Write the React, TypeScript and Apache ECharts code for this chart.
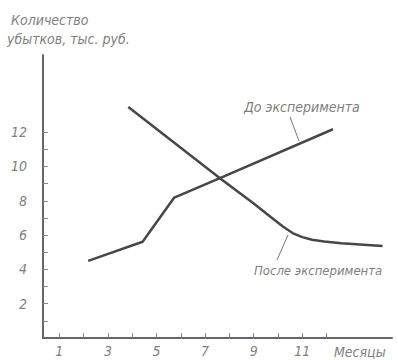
import React, { useEffect, useRef } from "react";
import * as echarts from "echarts";

// Months (x) and losses, thousand rubles (y)
const beforeMonths = [2.19, 4.43, 5.73, 7.61, 12.26];
const beforeValues = [4.5, 5.61, 8.19, 9.32, 12.17];
const afterMonths = [3.84, 7.61, 9.0, 9.7, 10.2, 10.6, 11.0, 11.4, 11.9, 12.6, 14.3];
const afterValues = [13.47, 9.32, 7.84, 7.05, 6.5, 6.12, 5.88, 5.73, 5.62, 5.52, 5.36];

const xTicks = [1, 2, 3, 4, 5, 6, 7, 8, 9, 10, 11, 12];
const xTickLabels = [1, 3, 5, 7, 9, 11];
const yTicks = [1, 2, 3, 4, 5, 6, 7, 8, 9, 10, 11, 12];
const yTickLabels = [2, 4, 6, 8, 10, 12];

const yTitle1 = "Количество";
const yTitle2 = "убытков, тыс. руб.";
const xTitle = "Месяцы";
const beforeName = "До эксперимента";
const afterName = "После эксперимента";

const FONT = "'DejaVu Sans Condensed', 'Liberation Sans Narrow', 'DejaVu Sans', sans-serif";
const TXT = "#808080";
const LINE = "#474747";

export default function App() {
  const ref = useRef<HTMLDivElement>(null);
  useEffect(() => {
    if (!ref.current) return;
    const chart = echarts.init(ref.current, null, { renderer: "svg" });
    const txt = (text: string, x: number, y: number, size = 14) => ({
      type: "text",
      left: x,
      top: y,
      style: { text, fill: TXT, font: `italic ${size}px ${FONT}` },
    });
    chart.setOption({
      animation: false,
      backgroundColor: "#fff",
      grid: { left: 43, right: 6, top: 55, bottom: 22 },
      xAxis: {
        type: "value",
        min: 0.33,
        max: 14.69,
        splitLine: { show: false },
        axisLine: { show: true, lineStyle: { color: "#666", width: 2 } },
        axisTick: {
          show: true,
          inside: true,
          length: 5,
          customValues: xTicks,
          lineStyle: { color: "#888", width: 1 },
        },
        axisLabel: {
          customValues: xTickLabels,
          margin: 6,
          color: TXT,
          fontSize: 14,
          fontStyle: "italic",
          fontFamily: FONT,
        },
      },
      yAxis: {
        type: "value",
        min: 0,
        max: 16.5,
        splitLine: { show: false },
        axisLine: { show: true, lineStyle: { color: "#666", width: 2 } },
        axisTick: {
          show: true,
          inside: true,
          length: 5,
          customValues: yTicks,
          lineStyle: { color: "#888", width: 1 },
        },
        axisLabel: {
          customValues: yTickLabels,
          margin: 16,
          color: TXT,
          fontSize: 14,
          fontStyle: "italic",
          fontFamily: FONT,
        },
      },
      series: [
        {
          name: beforeName,
          type: "line",
          data: beforeMonths.map((m, i) => [m, beforeValues[i]]),
          showSymbol: false,
          symbol: "none",
          lineStyle: { color: LINE, width: 2.5 },
        },
        {
          name: afterName,
          type: "line",
          data: afterMonths.map((m, i) => [m, afterValues[i]]),
          showSymbol: false,
          symbol: "none",
          lineStyle: { color: LINE, width: 2.5, join: "round" },
        },
      ],
      graphic: [
        txt(yTitle1, 11, 13),
        txt(yTitle2, 7, 32),
        txt(beforeName, 244, 100, 14),
        txt(afterName, 254, 264, 13),
        txt(xTitle, 334, 345),
        {
          type: "line",
          shape: { x1: 290, y1: 117, x2: 299, y2: 141 },
          style: { stroke: "#777", lineWidth: 1 },
        },
        {
          type: "line",
          shape: { x1: 277, y1: 260, x2: 288, y2: 235 },
          style: { stroke: "#777", lineWidth: 1 },
        },
      ],
    });
    return () => chart.dispose();
  }, []);
  return (
    <div
      ref={ref}
      style={{ position: "fixed", left: 0, top: 0, width: 398, height: 360 }}
    />
  );
}
